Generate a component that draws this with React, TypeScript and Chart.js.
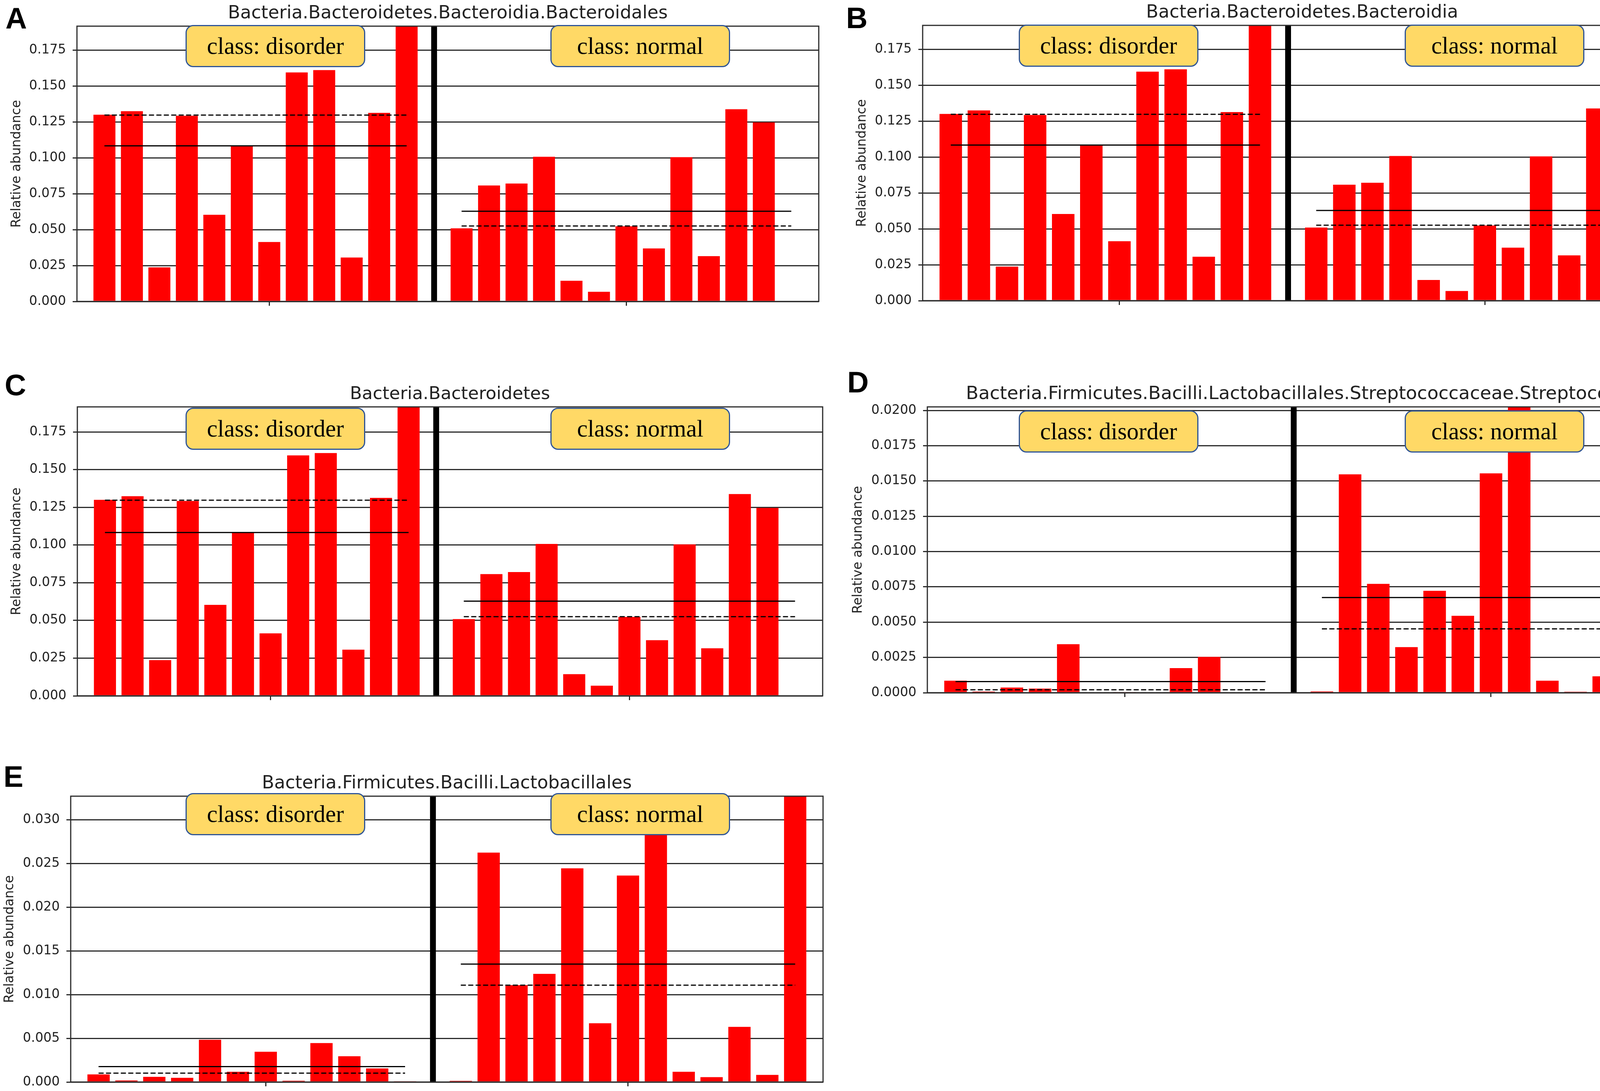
import React, { useEffect, useRef } from "react";
import { Chart, registerables } from "chart.js";

Chart.register(...registerables);

// ---------- data ----------
const disorderPositions = [0, 1, 2, 3, 4, 5, 6, 7, 8, 9, 10, 11];
const normalPositions = [13, 14, 15, 16, 17, 18, 19, 20, 21, 22, 23, 24, 25];
const separatorPosition = 12;
const xTickPositions = [6, 19];
const xRange = [-1, 26];
const groupLabels = ["class: disorder", "class: normal"];
const yAxisLabel = "Relative abundance";

// Bacteroidales / Bacteroidia / Bacteroidetes (panels A, B, C)
const bacteroidalesDisorder = [0.1300, 0.1324, 0.0237, 0.1292, 0.0603, 0.1082, 0.0414, 0.1594, 0.1610, 0.0306, 0.1313, 0.1950];
const bacteroidalesNormal = [0.0509, 0.0807, 0.0821, 0.1007, 0.0144, 0.0067, 0.0523, 0.0369, 0.1004, 0.0315, 0.1338, 0.1246, 0.0];
const bacteroidalesStats = [0.1083, 0.1297, 0.0628, 0.0525]; // disorder mean, disorder median, normal mean, normal median

// Streptococcus (panel D)
const streptococcusDisorder = [0.00085, 0.00008, 0.00037, 0.00029, 0.00344, 0.0, 0.00005, 0.0, 0.00174, 0.00254, 0.00004, 0.0];
const streptococcusNormal = [0.00009, 0.01547, 0.00771, 0.00323, 0.00722, 0.00545, 0.01554, 0.02600, 0.00085, 0.00007, 0.00116, 0.00028, 0.00452];
const streptococcusStats = [0.00079, 0.00021, 0.00674, 0.00452];

// Lactobacillales (panel E)
const lactobacillalesDisorder = [0.00087, 0.00018, 0.00059, 0.00048, 0.00483, 0.00117, 0.00346, 0.00015, 0.00445, 0.00295, 0.00155, 0.00003];
const lactobacillalesNormal = [0.00013, 0.02623, 0.01107, 0.01237, 0.02443, 0.00672, 0.02361, 0.02900, 0.00117, 0.00056, 0.00631, 0.00081, 0.03300];
const lactobacillalesStats = [0.00176, 0.00102, 0.01348, 0.01107];

// ---------- panel layout ----------
type PanelDef = {
  letter: string;
  title: string;
  titleSize: number;
  disorder: number[];
  normal: number[];
  stats: number[];
  yMax: number;
  yStep: number;
  decimals: number;
  L: number; T: number; R: number; B: number;
  colLeft: number;
  yTitleCenter: number;
  letterLeft: number; letterTop: number;
  boxLefts: number[]; boxTop: number;
};

const panels: PanelDef[] = [
  {
    letter: "A", title: "Bacteria.Bacteroidetes.Bacteroidia.Bacteroidales", titleSize: 46,
    disorder: bacteroidalesDisorder, normal: bacteroidalesNormal, stats: bacteroidalesStats,
    yMax: 0.1916, yStep: 0.025, decimals: 3,
    L: 197, T: 67, R: 2096, B: 772, colLeft: 0, yTitleCenter: 43,
    letterLeft: 14, letterTop: 9, boxLefts: [475, 1409], boxTop: 64,
  },
  {
    letter: "B", title: "Bacteria.Bacteroidetes.Bacteroidia", titleSize: 46,
    disorder: bacteroidalesDisorder, normal: bacteroidalesNormal, stats: bacteroidalesStats,
    yMax: 0.1916, yStep: 0.025, decimals: 3,
    L: 2362, T: 65, R: 4305, B: 770, colLeft: 2164, yTitleCenter: 43,
    letterLeft: 2166, letterTop: 8, boxLefts: [2608, 3596], boxTop: 63,
  },
  {
    letter: "C", title: "Bacteria.Bacteroidetes", titleSize: 45,
    disorder: bacteroidalesDisorder, normal: bacteroidalesNormal, stats: bacteroidalesStats,
    yMax: 0.1916, yStep: 0.025, decimals: 3,
    L: 198, T: 1042, R: 2106, B: 1782, colLeft: 0, yTitleCenter: 43,
    letterLeft: 12, letterTop: 948, boxLefts: [475, 1409], boxTop: 1044,
  },
  {
    letter: "D", title: "Bacteria.Firmicutes.Bacilli.Lactobacillales.Streptococcaceae.Streptococcus", titleSize: 47,
    disorder: streptococcusDisorder, normal: streptococcusNormal, stats: streptococcusStats,
    yMax: 0.02025, yStep: 0.0025, decimals: 4,
    L: 2374, T: 1042, R: 4322, B: 1774, colLeft: 2164, yTitleCenter: 33,
    letterLeft: 2169, letterTop: 941, boxLefts: [2608, 3596], boxTop: 1051,
  },
  {
    letter: "E", title: "Bacteria.Firmicutes.Bacilli.Lactobacillales", titleSize: 46,
    disorder: lactobacillalesDisorder, normal: lactobacillalesNormal, stats: lactobacillalesStats,
    yMax: 0.03268, yStep: 0.005, decimals: 3,
    L: 181, T: 2039, R: 2107, B: 2771, colLeft: 0, yTitleCenter: 25,
    letterLeft: 9, letterTop: 1951, boxLefts: [475, 1409], boxTop: 2031,
  },
];

const PAD_TOP = 40;
const PAD_RIGHT = 10;
const X_AXIS_H = 40;
const GRID = "#2b2b2b";
const TEXT = "#222222";
const SANS = "'DejaVu Sans', sans-serif";

const framePlugin = {
  id: "frame",
  afterDraw(chart: any) {
    const { ctx, chartArea } = chart;
    const { left, top, right, bottom } = chartArea;
    ctx.save();
    ctx.strokeStyle = GRID;
    ctx.lineWidth = 3;
    ctx.strokeRect(left, top, right - left, bottom - top);
    ctx.restore();
  },
};

function hLine(xs: number[], y: number) {
  return [{ x: xs[0], y }, { x: xs[xs.length - 1], y }];
}

function makeConfig(p: PanelDef): any {
  const bars = [
    ...p.disorder.map((v, i) => ({ x: disorderPositions[i], y: v })),
    ...p.normal.map((v, i) => ({ x: normalPositions[i], y: v })),
  ];
  const lineBase = { type: "line", borderColor: "#000000", borderWidth: 3, pointRadius: 0, fill: false, order: 0 };
  const yAxisWidth = p.L - p.colLeft;
  const lineH = 33 * 1.2;
  return {
    type: "bar",
    data: {
      datasets: [
        { ...lineBase, data: hLine(disorderPositions, p.stats[0]) },
        { ...lineBase, data: hLine(disorderPositions, p.stats[1]), borderDash: [13, 6] },
        { ...lineBase, data: hLine(normalPositions, p.stats[2]) },
        { ...lineBase, data: hLine(normalPositions, p.stats[3]), borderDash: [13, 6] },
        { ...lineBase, data: [{ x: separatorPosition, y: 0 }, { x: separatorPosition, y: p.yMax }], borderWidth: 15 },
        {
          type: "bar", data: bars, backgroundColor: "#ff0000", borderWidth: 0,
          barPercentage: 0.8, categoryPercentage: 1.0, order: 1,
        },
      ],
    },
    options: {
      responsive: false,
      animation: false,
      events: [],
      layout: { padding: { top: PAD_TOP, right: PAD_RIGHT, bottom: 0, left: 0 } },
      plugins: { legend: { display: false }, tooltip: { enabled: false }, title: { display: false } },
      scales: {
        x: {
          type: "linear",
          min: xRange[0],
          max: xRange[1],
          offset: false,
          afterBuildTicks: (s: any) => { s.ticks = xTickPositions.map((v) => ({ value: v })); },
          ticks: { display: false },
          grid: { offset: false, drawOnChartArea: false, drawTicks: true, tickLength: 11, color: GRID, lineWidth: 3 },
          border: { display: false },
          afterFit: (s: any) => { s.height = X_AXIS_H; },
        },
        y: {
          type: "linear",
          min: 0,
          max: p.yMax,
          z: 1,
          ticks: {
            stepSize: p.yStep,
            includeBounds: false,
            callback: (v: any) => Number(v).toFixed(p.decimals),
            font: { family: SANS, size: 33 },
            color: TEXT,
            padding: 17,
          },
          grid: { color: GRID, lineWidth: 3, tickLength: 11, drawTicks: true },
          border: { display: false },
          title: {
            display: true,
            text: yAxisLabel,
            font: { family: SANS, size: 33 },
            color: TEXT,
            padding: { top: Math.max(0, p.yTitleCenter - lineH / 2), bottom: 0 },
          },
          afterFit: (s: any) => { s.width = yAxisWidth; },
        },
      },
    },
    plugins: [framePlugin],
  };
}

function Panel({ p }: { p: PanelDef }) {
  const ref = useRef<HTMLCanvasElement>(null);
  const w = p.R - p.colLeft + PAD_RIGHT;
  const h = p.B - p.T + PAD_TOP + X_AXIS_H;
  useEffect(() => {
    const chart = new Chart(ref.current as HTMLCanvasElement, makeConfig(p));
    return () => chart.destroy();
  }, []);
  const boxStyle = (left: number): React.CSSProperties => ({
    position: "absolute",
    left,
    top: p.boxTop,
    width: 460,
    height: 108,
    boxSizing: "border-box",
    background: "#FFD966",
    border: "3px solid #2F5597",
    borderRadius: 20,
    display: "flex",
    alignItems: "center",
    justifyContent: "center",
    fontFamily: "'Liberation Serif', 'Times New Roman', serif",
    fontSize: 61,
    color: "#000",
    whiteSpace: "nowrap",
  });
  const titleBaselineOffset = p.titleSize * 0.846; // ascent minus half-leading for DejaVu Sans at line-height 1
  return (
    <>
      <canvas
        ref={ref}
        width={w}
        height={h}
        style={{ position: "absolute", left: p.colLeft, top: p.T - PAD_TOP, width: w, height: h }}
      />
      <div
        style={{
          position: "absolute", left: p.L, top: p.T - 20 - titleBaselineOffset, width: p.R - p.L, textAlign: "center",
          fontFamily: SANS, fontSize: p.titleSize, lineHeight: `${p.titleSize}px`, color: TEXT, whiteSpace: "nowrap",
        }}
      >
        {p.title}
      </div>
      <div
        style={{
          position: "absolute", left: p.letterLeft, top: p.letterTop,
          fontFamily: "'Liberation Sans', Arial, sans-serif", fontWeight: "bold",
          fontSize: 76, lineHeight: "76px", color: "#000",
        }}
      >
        {p.letter}
      </div>
      <div style={boxStyle(p.boxLefts[0])}>{groupLabels[0]}</div>
      <div style={boxStyle(p.boxLefts[1])}>{groupLabels[1]}</div>
    </>
  );
}

export default function App() {
  return (
    <div
      style={{
        position: "absolute", left: 0, top: 0, width: 4328, height: 2794,
        overflow: "hidden", background: "#ffffff",
      }}
    >
      {panels.map((p) => (
        <Panel key={p.letter} p={p} />
      ))}
    </div>
  );
}
